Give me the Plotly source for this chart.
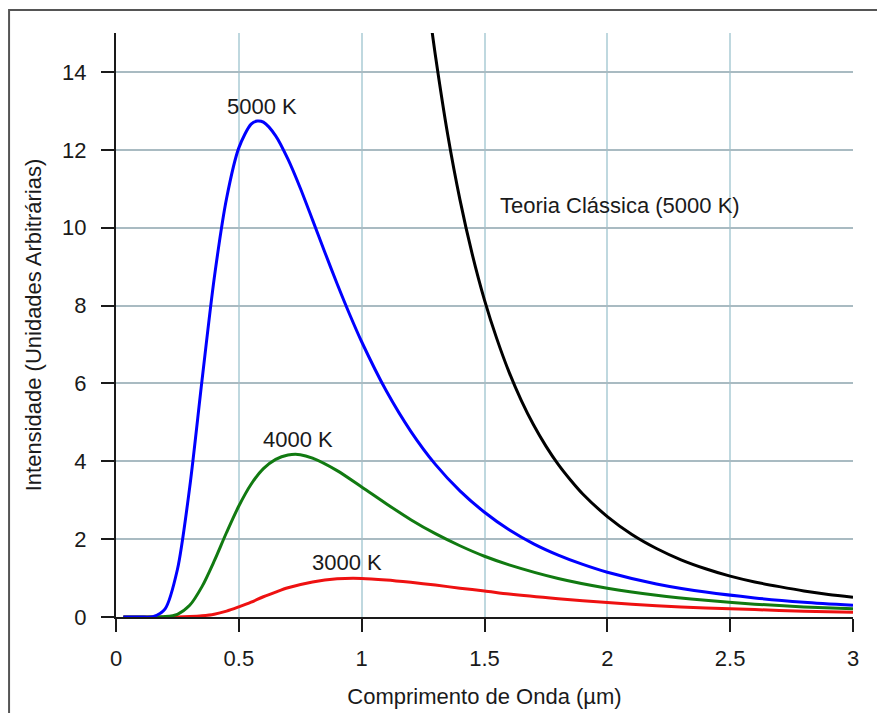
import plotly.graph_objects as go

# wavelength (µm) sample points
x_5000 = [0.03, 0.10, 0.15, 0.20, 0.25, 0.30, 0.35, 0.40, 0.45, 0.50, 0.55, 0.575, 0.60, 0.65, 0.70, 0.75,
          0.80, 0.85, 0.90, 0.95, 1.00, 1.10, 1.20, 1.30, 1.40, 1.50, 1.60, 1.70, 1.80, 1.90, 2.00, 2.20, 2.40,
          2.60, 2.80, 3.00]
y_5000 = [0.0, 0.0, 0.01, 0.21, 1.22, 3.33, 6.07, 8.71, 10.75, 12.05, 12.66, 12.74, 12.71, 12.36, 11.76, 11.02,
          10.20, 9.37, 8.56, 7.79, 7.07, 5.81, 4.77, 3.92, 3.24, 2.69, 2.24, 1.88, 1.59, 1.35, 1.15, 0.85, 0.64,
          0.49, 0.38, 0.30]

x_4000 = [0.03, 0.15, 0.20, 0.25, 0.30, 0.35, 0.40, 0.45, 0.50, 0.55, 0.60, 0.65, 0.70, 0.75, 0.80,
          0.90, 1.00, 1.10, 1.20, 1.30, 1.40, 1.50, 1.60, 1.80, 2.00, 2.20, 2.40, 2.60, 2.80, 3.00]
y_4000 = [0.0, 0.0, 0.01, 0.07, 0.30, 0.78, 1.44, 2.17, 2.85, 3.41, 3.81, 4.05, 4.16, 4.17, 4.08,
          3.76, 3.34, 2.91, 2.50, 2.14, 1.83, 1.56, 1.34, 0.99, 0.74, 0.56, 0.43, 0.33, 0.26, 0.21]

x_3000 = [0.03, 0.20, 0.25, 0.30, 0.35, 0.40, 0.45, 0.50, 0.55, 0.60, 0.65, 0.70, 0.80, 0.90, 1.00,
          1.10, 1.20, 1.30, 1.40, 1.50, 1.60, 1.80, 2.00, 2.20, 2.40, 2.60, 2.80, 3.00]
y_3000 = [0.0, 0.0, 0.0, 0.01, 0.03, 0.07, 0.15, 0.26, 0.38, 0.52, 0.64, 0.75, 0.90, 0.98, 0.99,
          0.95, 0.89, 0.82, 0.74, 0.67, 0.59, 0.47, 0.37, 0.29, 0.23, 0.19, 0.15, 0.12]

x_classic = [1.28, 1.30, 1.35, 1.40, 1.45, 1.50, 1.55, 1.60, 1.65, 1.70, 1.75, 1.80, 1.85, 1.90, 2.00,
             2.10, 2.20, 2.30, 2.40, 2.50, 2.60, 2.70, 2.80, 2.90, 3.00]
y_classic = [15.35, 14.43, 12.40, 10.72, 9.32, 8.14, 7.15, 6.29, 5.56, 4.93, 4.39, 3.92, 3.52, 3.16, 2.58,
             2.12, 1.76, 1.47, 1.24, 1.05, 0.90, 0.78, 0.67, 0.58, 0.51]

x_ticks = [0, 0.5, 1, 1.5, 2, 2.5, 3]
x_tick_labels = ["0", "0.5", "1", "1.5", "2", "2.5", "3"]
y_ticks = [0, 2, 4, 6, 8, 10, 12, 14]

labels = ["3000 K", "4000 K", "5000 K", "Teoria Clássica (5000 K)"]
label_x = [0.942, 0.742, 0.593, 2.05]
label_y = [1.41, 4.56, 13.11, 10.58]

FONT = "Liberation Sans, Arial, sans-serif"
FS = 22

fig = go.Figure()
series = [
    (x_3000, y_3000, "#ee1111"),
    (x_4000, y_4000, "#117a11"),
    (x_5000, y_5000, "#0000ff"),
    (x_classic, y_classic, "#000000"),
]
for xs, ys, c in series:
    fig.add_trace(go.Scatter(x=xs, y=ys, mode="lines",
                             line=dict(color=c, width=3, shape="spline", smoothing=0.8),
                             showlegend=False, hoverinfo="skip"))

for t, ax, ay in zip(labels, label_x, label_y):
    fig.add_annotation(x=ax, y=ay, text=t, showarrow=False,
                       font=dict(family=FONT, size=FS, color="#1a1a1a"))

# outer frame
fig.add_shape(type="rect", xref="paper", yref="paper",
              x0=-0.1451, x1=1.5, y0=-0.5, y1=1.0394,
              line=dict(color="#555555", width=2), layer="below")

fig.update_layout(
    width=885, height=713,
    margin=dict(l=108, r=40, t=25, b=104),
    paper_bgcolor="white", plot_bgcolor="white",
    font=dict(family=FONT, size=FS, color="#1a1a1a"),
    xaxis=dict(range=[0, 3], tickvals=x_ticks, ticktext=x_tick_labels,
               showgrid=True, gridcolor="#bfd8df", gridwidth=2,
               showline=True, linecolor="#1a1a1a", linewidth=2,
               ticks="outside", ticklen=13, tickwidth=2, tickcolor="#1a1a1a",
               ticklabelstandoff=8, zeroline=False,
               title=dict(text="Comprimento de Onda (µm)", font=dict(size=FS), standoff=18)),
    yaxis=dict(range=[0, 15], tickvals=y_ticks,
               showgrid=True, gridcolor="#a9bbc2", gridwidth=2,
               showline=True, linecolor="#1a1a1a", linewidth=2,
               ticks="outside", ticklen=13, tickwidth=2, tickcolor="#1a1a1a",
               ticklabelstandoff=10, zeroline=False,
               title=dict(text="Intensidade (Unidades Arbitrárias)", font=dict(size=FS), standoff=14)),
)

fig.write_html("out.html")
